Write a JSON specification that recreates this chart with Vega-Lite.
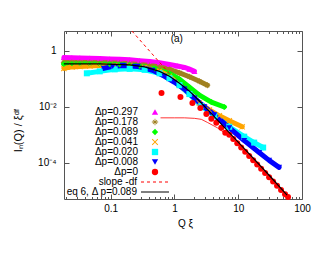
{
  "$schema": "https://vega.github.io/schema/vega-lite/v6.json",
  "width": 238,
  "height": 168,
  "autosize": {"type": "none"},
  "padding": {"left": 64, "top": 31, "right": 28, "bottom": 56},
  "config": {
    "view": {"stroke": "#555", "strokeWidth": 1},
    "font": "Liberation Sans",
    "axis": {"domain": false, "grid": false, "labelFont": "Liberation Sans", "labelFontSize": 10, "labelColor": "#000", "titleFont": "Liberation Sans", "titleFontSize": 10, "titleFontWeight": "normal", "titleColor": "#000", "tickColor": "#555", "labelFlush": false, "labelOverlap": false},
    "legend": {"labelFont": "Liberation Sans", "labelFontSize": 10, "labelColor": "#000"}
  },
  "datasets": {
    "pts": [
      {"s": "Δp=0.297", "x": 0.0184, "y": 0.566}, {"s": "Δp=0.297", "x": 0.0246, "y": 0.557}, {"s": "Δp=0.297", "x": 0.0328, "y": 0.548}, {"s": "Δp=0.297", "x": 0.047, "y": 0.534}, {"s": "Δp=0.297", "x": 0.0673, "y": 0.522}, {"s": "Δp=0.297", "x": 0.0965, "y": 0.505}, {"s": "Δp=0.297", "x": 0.138, "y": 0.489}, {"s": "Δp=0.297", "x": 0.198, "y": 0.466}, {"s": "Δp=0.297", "x": 0.284, "y": 0.436}, {"s": "Δp=0.297", "x": 0.407, "y": 0.409}, {"s": "Δp=0.297", "x": 0.583, "y": 0.365}, {"s": "Δp=0.297", "x": 0.835, "y": 0.32}, {"s": "Δp=0.297", "x": 1.114, "y": 0.283}, {"s": "Δp=0.297", "x": 1.433, "y": 0.251}, {"s": "Δp=0.297", "x": 1.715, "y": 0.217}, {"s": "Δp=0.297", "x": 2.054, "y": 0.181},
      {"s": "Δp=0.178", "x": 0.0184, "y": 0.377}, {"s": "Δp=0.178", "x": 0.0246, "y": 0.377}, {"s": "Δp=0.178", "x": 0.0328, "y": 0.377}, {"s": "Δp=0.178", "x": 0.047, "y": 0.377}, {"s": "Δp=0.178", "x": 0.0673, "y": 0.371}, {"s": "Δp=0.178", "x": 0.0965, "y": 0.365}, {"s": "Δp=0.178", "x": 0.138, "y": 0.356}, {"s": "Δp=0.178", "x": 0.198, "y": 0.342}, {"s": "Δp=0.178", "x": 0.284, "y": 0.32}, {"s": "Δp=0.178", "x": 0.407, "y": 0.295}, {"s": "Δp=0.178", "x": 0.583, "y": 0.261}, {"s": "Δp=0.178", "x": 0.835, "y": 0.213}, {"s": "Δp=0.178", "x": 1.197, "y": 0.16}, {"s": "Δp=0.178", "x": 1.715, "y": 0.116}, {"s": "Δp=0.178", "x": 2.458, "y": 0.0803}, {"s": "Δp=0.178", "x": 3.28, "y": 0.058},
      {"s": "Δp=0.089", "x": 0.0184, "y": 0.333}, {"s": "Δp=0.089", "x": 0.0246, "y": 0.333}, {"s": "Δp=0.089", "x": 0.0328, "y": 0.333}, {"s": "Δp=0.089", "x": 0.047, "y": 0.331}, {"s": "Δp=0.089", "x": 0.0673, "y": 0.328}, {"s": "Δp=0.089", "x": 0.0965, "y": 0.322}, {"s": "Δp=0.089", "x": 0.138, "y": 0.315}, {"s": "Δp=0.089", "x": 0.198, "y": 0.3}, {"s": "Δp=0.089", "x": 0.284, "y": 0.283}, {"s": "Δp=0.089", "x": 0.487, "y": 0.231}, {"s": "Δp=0.089", "x": 0.835, "y": 0.154}, {"s": "Δp=0.089", "x": 1.197, "y": 0.0945}, {"s": "Δp=0.089", "x": 1.715, "y": 0.0493}, {"s": "Δp=0.089", "x": 2.458, "y": 0.0257}, {"s": "Δp=0.089", "x": 3.787, "y": 0.0145}, {"s": "Δp=0.089", "x": 6.04, "y": 0.00968},
      {"s": "Δp=0.041", "x": 0.0184, "y": 0.231}, {"s": "Δp=0.041", "x": 0.0246, "y": 0.261}, {"s": "Δp=0.041", "x": 0.0328, "y": 0.272}, {"s": "Δp=0.041", "x": 0.047, "y": 0.283}, {"s": "Δp=0.041", "x": 0.0673, "y": 0.29}, {"s": "Δp=0.041", "x": 0.1155, "y": 0.29}, {"s": "Δp=0.041", "x": 0.198, "y": 0.283}, {"s": "Δp=0.041", "x": 0.34, "y": 0.251}, {"s": "Δp=0.041", "x": 0.583, "y": 0.181}, {"s": "Δp=0.041", "x": 0.835, "y": 0.121}, {"s": "Δp=0.041", "x": 1.197, "y": 0.058}, {"s": "Δp=0.041", "x": 1.715, "y": 0.0279}, {"s": "Δp=0.041", "x": 2.458, "y": 0.0134}, {"s": "Δp=0.041", "x": 3.522, "y": 0.00759}, {"s": "Δp=0.041", "x": 5.05, "y": 0.00466}, {"s": "Δp=0.041", "x": 7.23, "y": 0.0031}, {"s": "Δp=0.041", "x": 11.55, "y": 0.0019},
      {"s": "Δp=0.020", "x": 0.0422, "y": 0.154}, {"s": "Δp=0.020", "x": 0.0673, "y": 0.181}, {"s": "Δp=0.020", "x": 0.1155, "y": 0.213}, {"s": "Δp=0.020", "x": 0.198, "y": 0.222}, {"s": "Δp=0.020", "x": 0.34, "y": 0.205}, {"s": "Δp=0.020", "x": 0.583, "y": 0.154}, {"s": "Δp=0.020", "x": 0.835, "y": 0.1025}, {"s": "Δp=0.020", "x": 1.197, "y": 0.058}, {"s": "Δp=0.020", "x": 1.715, "y": 0.0279}, {"s": "Δp=0.020", "x": 2.641, "y": 0.0105}, {"s": "Δp=0.020", "x": 4.217, "y": 0.00466}, {"s": "Δp=0.020", "x": 7.23, "y": 0.0019}, {"s": "Δp=0.020", "x": 12.41, "y": 0.000843}, {"s": "Δp=0.020", "x": 17.78, "y": 0.000517}, {"s": "Δp=0.020", "x": 24.6, "y": 0.000344},
      {"s": "Δp=0.008", "x": 0.0778, "y": 0.231}, {"s": "Δp=0.008", "x": 0.1075, "y": 0.272}, {"s": "Δp=0.008", "x": 0.154, "y": 0.295}, {"s": "Δp=0.008", "x": 0.264, "y": 0.272}, {"s": "Δp=0.008", "x": 0.453, "y": 0.197}, {"s": "Δp=0.008", "x": 0.698, "y": 0.121}, {"s": "Δp=0.008", "x": 1.0, "y": 0.074}, {"s": "Δp=0.008", "x": 1.433, "y": 0.0419}, {"s": "Δp=0.008", "x": 2.054, "y": 0.0201}, {"s": "Δp=0.008", "x": 2.943, "y": 0.00968}, {"s": "Δp=0.008", "x": 4.217, "y": 0.00505}, {"s": "Δp=0.008", "x": 7.23, "y": 0.00175}, {"s": "Δp=0.008", "x": 12.41, "y": 0.000608}, {"s": "Δp=0.008", "x": 21.3, "y": 0.000229}, {"s": "Δp=0.008", "x": 30.5, "y": 0.00012}, {"s": "Δp=0.008", "x": 43.7, "y": 0.0000676},
      {"s": "Δp=0", "x": 0.626, "y": 0.0303}, {"s": "Δp=0", "x": 1.241, "y": 0.0218}, {"s": "Δp=0", "x": 1.911, "y": 0.0134}, {"s": "Δp=0", "x": 2.548, "y": 0.00893}, {"s": "Δp=0", "x": 3.162, "y": 0.00548}, {"s": "Δp=0", "x": 3.787, "y": 0.00365}, {"s": "Δp=0", "x": 4.53, "y": 0.00263}, {"s": "Δp=0", "x": 5.42, "y": 0.00175}, {"s": "Δp=0", "x": 6.26, "y": 0.00117}, {"s": "Δp=0", "x": 7.23, "y": 0.00099}, {"s": "Δp=0", "x": 8.35, "y": 0.000699}, {"s": "Δp=0", "x": 9.65, "y": 0.000493}, {"s": "Δp=0", "x": 11.13, "y": 0.000347}, {"s": "Δp=0", "x": 12.86, "y": 0.000245}, {"s": "Δp=0", "x": 14.85, "y": 0.000173}, {"s": "Δp=0", "x": 17.15, "y": 0.0001216}, {"s": "Δp=0", "x": 19.8, "y": 0.0000857}, {"s": "Δp=0", "x": 22.86, "y": 0.0000598}, {"s": "Δp=0", "x": 26.4, "y": 0.0000422}, {"s": "Δp=0", "x": 30.5, "y": 0.00003}, {"s": "Δp=0", "x": 35.2, "y": 0.0000211}, {"s": "Δp=0", "x": 40.6, "y": 0.0000149}, {"s": "Δp=0", "x": 46.9, "y": 0.0000104}, {"s": "Δp=0", "x": 54.2, "y": 0.00000734}, {"s": "Δp=0", "x": 60.4, "y": 0.00000589}
    ],
    "fit": [
      {"l": "eq 6, Δ p=0.089", "x": 0.0184, "y": 0.333}, {"l": "eq 6, Δ p=0.089", "x": 0.0673, "y": 0.333}, {"l": "eq 6, Δ p=0.089", "x": 0.198, "y": 0.307}, {"l": "eq 6, Δ p=0.089", "x": 0.34, "y": 0.261}, {"l": "eq 6, Δ p=0.089", "x": 0.583, "y": 0.181}, {"l": "eq 6, Δ p=0.089", "x": 0.835, "y": 0.121}, {"l": "eq 6, Δ p=0.089", "x": 1.197, "y": 0.0682}, {"l": "eq 6, Δ p=0.089", "x": 1.715, "y": 0.0356}, {"l": "eq 6, Δ p=0.089", "x": 2.458, "y": 0.0158}, {"l": "eq 6, Δ p=0.089", "x": 3.522, "y": 0.00671}, {"l": "eq 6, Δ p=0.089", "x": 7.23, "y": 0.00117}, {"l": "eq 6, Δ p=0.089", "x": 14.85, "y": 0.000203}, {"l": "eq 6, Δ p=0.089", "x": 30.5, "y": 0.0000353}, {"l": "eq 6, Δ p=0.089", "x": 58.3, "y": 0.00000693}
    ],
    "slope": [
      {"l": "slope -df", "x": 0.215, "y": 5.0}, {"l": "slope -df", "x": 0.898, "y": 0.1245}
    ],
    "thin": [
      {"x": 0.604, "y": 0.00396}, {"x": 1.0, "y": 0.00396}, {"x": 1.433, "y": 0.00396}, {"x": 2.054, "y": 0.0038}, {"x": 2.641, "y": 0.0035}, {"x": 3.28, "y": 0.00272}, {"x": 4.7, "y": 0.00175}, {"x": 6.04, "y": 0.00117}
    ],
    "note": [{"x": 0.87, "y": 2.55, "t": "(a)"}]
  },
  "layer": [
    {
      "data": {"name": "pts"},
      "transform": [{"filter": "datum.s !== 'Δp=0'"}],
      "mark": {"type": "line", "strokeWidth": 5, "strokeCap": "round", "strokeJoin": "round"},
      "encoding": {
        "x": {"field": "x", "type": "quantitative", "scale": {"type": "log", "domain": [0.0185, 100]},
          "axis": {"orient": "bottom", "values": [0.02,0.03,0.04,0.05,0.06,0.07,0.08,0.09,0.1,0.2,0.3,0.4,0.5,0.6,0.7,0.8,0.9,1,2,3,4,5,6,7,8,9,10,20,30,40,50,60,70,80,90,100],
            "tickSize": {"condition": {"test": "indexof([0.1,1,10,100], datum.value) >= 0", "value": -5}, "value": -2.5},
            "labelExpr": "indexof([0.1,1,10,100], datum.value) >= 0 ? datum.value + '' : ''",
            "labelPadding": 9, "title": "Q ξ", "titleX": 121, "titleY": 19}},
        "y": {"field": "y", "type": "quantitative", "scale": {"type": "log", "domain": [0.000005, 5]},
          "axis": {"orient": "left", "values": [1, 0.01, 0.0001], "tickSize": -5, "labelPadding": 13,
            "labelExpr": "datum.value == 1 ? '1' : datum.value == 0.01 ? '10⁻²' : '10⁻⁴'",
            "title": "Iₙ(Q) / ξᵈᶠ", "titleFontSize": 11, "titleX": -41, "titleY": 99}},
        "stroke": {"field": "s", "type": "nominal",
          "scale": {"domain": ["Δp=0.297", "Δp=0.178", "Δp=0.089", "Δp=0.041", "Δp=0.020", "Δp=0.008"], "range": ["#ff00ff", "#a08020", "#00ff00", "#ffa500", "#00ffff", "#0000ff"]},
          "legend": null}
      }
    },
    {
      "data": {"name": "thin"},
      "mark": {"type": "line", "stroke": "#ff0000", "strokeWidth": 0.8},
      "encoding": {
        "x": {"field": "x", "type": "quantitative", "scale": {"type": "log", "domain": [0.0185, 100]}, "axis": null},
        "y": {"field": "y", "type": "quantitative", "scale": {"type": "log", "domain": [0.000005, 5]}, "axis": null}
      }
    },
    {
      "data": {"name": "pts"},
      "mark": {"type": "point", "filled": true, "size": 36, "opacity": 1},
      "encoding": {
        "x": {"field": "x", "type": "quantitative", "scale": {"type": "log", "domain": [0.0185, 100]}, "axis": null},
        "y": {"field": "y", "type": "quantitative", "scale": {"type": "log", "domain": [0.000005, 5]}, "axis": null},
        "color": {"field": "s", "type": "nominal",
          "scale": {"domain": ["Δp=0.297", "Δp=0.178", "Δp=0.089", "Δp=0.041", "Δp=0.020", "Δp=0.008", "Δp=0"], "range": ["#ff00ff", "#a08020", "#00ff00", "#ffa500", "#00ffff", "#0000ff", "#ff0000"]},
          "legend": {"orient": "none", "legendX": 86, "legendY": 76, "title": null, "direction": "vertical", "labelAlign": "right", "labelOffset": -22, "symbolSize": 40, "rowPadding": 0, "padding": 0, "labelLimit": 0}},
        "shape": {"field": "s", "type": "nominal",
          "scale": {"domain": ["Δp=0.297", "Δp=0.178", "Δp=0.089", "Δp=0.041", "Δp=0.020", "Δp=0.008", "Δp=0"], "range": ["triangle-up", "M-1,-0.12L1,-0.12L1,0.12L-1,0.12Z M-0.12,-1L0.12,-1L0.12,1L-0.12,1Z M-0.75,-0.58L-0.58,-0.75L0,-0.17L0.58,-0.75L0.75,-0.58L0.17,0L0.75,0.58L0.58,0.75L0,0.17L-0.58,0.75L-0.75,0.58L-0.17,0Z", "diamond", "M-1,-0.8L-0.8,-1L0,-0.2L0.8,-1L1,-0.8L0.2,0L1,0.8L0.8,1L0,0.2L-0.8,1L-1,0.8L-0.2,0Z", "square", "triangle-down", "circle"]},
          "legend": {"orient": "none", "legendX": 86, "legendY": 76, "title": null, "direction": "vertical", "labelAlign": "right", "labelOffset": -22, "symbolSize": 40, "rowPadding": 0, "padding": 0, "labelLimit": 0}}
      }
    },
    {
      "data": {"name": "slope"},
      "mark": {"type": "line", "stroke": "#ff0000", "strokeWidth": 1, "clip": true},
      "encoding": {
        "x": {"field": "x", "type": "quantitative", "scale": {"type": "log", "domain": [0.0185, 100]}, "axis": null},
        "y": {"field": "y", "type": "quantitative", "scale": {"type": "log", "domain": [0.000005, 5]}, "axis": null},
        "strokeDash": {"field": "l", "type": "nominal",
          "scale": {"domain": ["slope -df"], "range": [[3, 3]]},
          "legend": {"orient": "none", "legendX": 86, "legendY": 146, "title": null, "direction": "vertical", "labelAlign": "right", "labelOffset": -23, "symbolType": "M-3.5,0L3.5,0", "symbolSize": 64, "rowPadding": 0, "padding": 0, "symbolStrokeWidth": 1, "symbolStrokeColor": "#ff0000", "labelLimit": 0}}
      }
    },
    {
      "data": {"name": "fit"},
      "mark": {"type": "line", "stroke": "#000000", "strokeWidth": 1.2},
      "encoding": {
        "x": {"field": "x", "type": "quantitative", "scale": {"type": "log", "domain": [0.0185, 100]}, "axis": null},
        "y": {"field": "y", "type": "quantitative", "scale": {"type": "log", "domain": [0.000005, 5]}, "axis": null},
        "fill": {"field": "l", "type": "nominal",
          "scale": {"domain": ["eq 6, Δ p=0.089"], "range": ["transparent"]},
          "legend": {"orient": "none", "legendX": 86, "legendY": 156, "title": null, "direction": "vertical", "labelAlign": "right", "labelOffset": -23, "symbolType": "M-3.5,0L3.5,0", "symbolSize": 64, "rowPadding": 0, "padding": 0, "symbolStrokeWidth": 1, "symbolStrokeColor": "#000000", "labelLimit": 0}}
      }
    },
    {
      "data": {"name": "note"},
      "mark": {"type": "text", "align": "left", "baseline": "middle", "fontSize": 10, "font": "Liberation Sans", "color": "#000"},
      "encoding": {
        "x": {"field": "x", "type": "quantitative", "scale": {"type": "log", "domain": [0.0185, 100]},
          "axis": {"orient": "top", "values": [0.02,0.03,0.04,0.05,0.06,0.07,0.08,0.09,0.1,0.2,0.3,0.4,0.5,0.6,0.7,0.8,0.9,1,2,3,4,5,6,7,8,9,10,20,30,40,50,60,70,80,90,100],
            "tickSize": {"condition": {"test": "indexof([0.1,1,10,100], datum.value) >= 0", "value": -5}, "value": -2.5},
            "labels": false, "title": null}},
        "y": {"field": "y", "type": "quantitative", "scale": {"type": "log", "domain": [0.000005, 5]},
          "axis": {"orient": "right", "values": [1, 0.01, 0.0001], "tickSize": -5, "labels": false, "title": null}},
        "text": {"field": "t", "type": "nominal"}
      }
    }
  ],
  "resolve": {"axis": {"x": "independent", "y": "independent"}}
}
